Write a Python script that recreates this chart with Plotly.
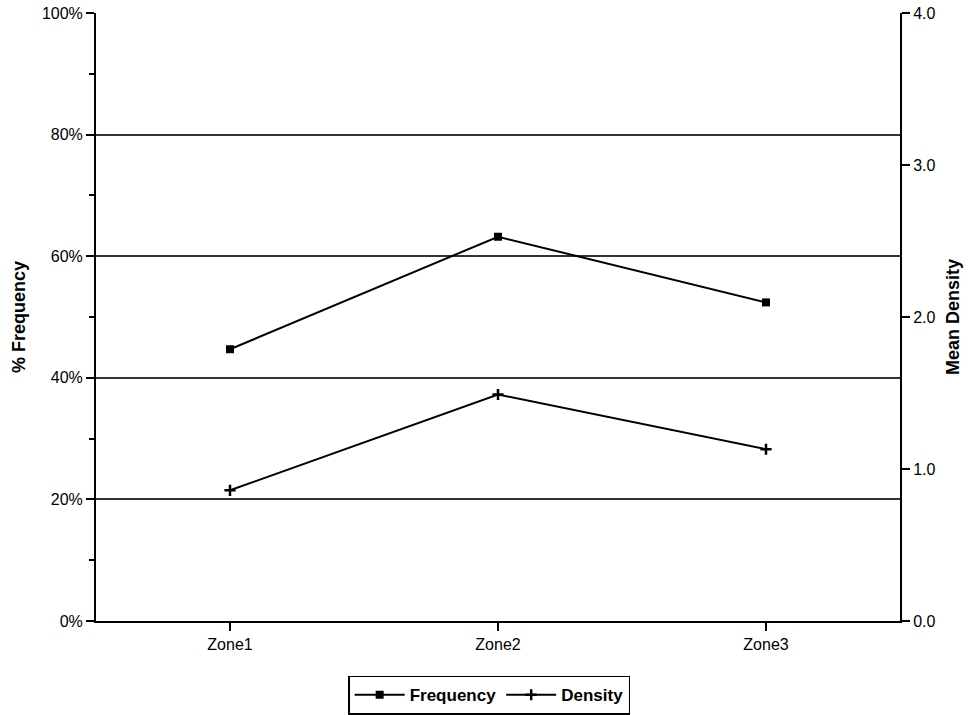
import plotly.graph_objects as go

categories = ["Zone1", "Zone2", "Zone3"]
frequency_pct = [44.7, 63.2, 52.4]
mean_density = [0.86, 1.49, 1.13]
left_ticks = [0, 20, 40, 60, 80, 100]
right_ticks = [0.0, 1.0, 2.0, 3.0, 4.0]

font_family = "Liberation Sans, Arial, sans-serif"

fig = go.Figure()
fig.add_trace(go.Scatter(
    x=categories, y=frequency_pct, name="<b>Frequency</b>",
    mode="lines+markers",
    line=dict(color="black", width=2),
    marker=dict(symbol="square", size=8, color="black"),
    yaxis="y",
))
fig.add_trace(go.Scatter(
    x=categories, y=mean_density, name="<b>Density</b>",
    mode="lines+markers",
    line=dict(color="black", width=2),
    marker=dict(symbol="cross-thin", size=8, color="black",
                line=dict(color="black", width=2.5)),
    yaxis="y2",
))

fig.update_layout(
    width=969, height=715,
    margin=dict(l=96, r=69, t=13, b=94, autoexpand=False),
    plot_bgcolor="white", paper_bgcolor="white",
    font=dict(family=font_family, size=16, color="black"),
    xaxis=dict(
        type="category", range=[-0.5, 2.5], automargin=False,
        showline=True, linecolor="black", linewidth=2,
        ticks="outside", ticklen=8, tickwidth=1.5, tickcolor="black",
        showgrid=False, zeroline=False,
        tickfont=dict(size=16),
    ),
    yaxis=dict(
        range=[0, 100], tickvals=left_ticks, automargin=False,
        ticktext=[f"{v}%" for v in left_ticks],
        showline=True, linecolor="black", linewidth=2,
        ticks="outside", ticklen=8, tickwidth=1.5, tickcolor="black",
        minor=dict(ticks="outside", ticklen=5, tickwidth=1.5, tickcolor="black", dtick=10, showgrid=False),
        showgrid=True, gridcolor="#333", gridwidth=1.5,
        zeroline=False,
        tickfont=dict(size=16),
        title=dict(text="<b>% Frequency</b>", font=dict(size=18), standoff=12),
    ),
    yaxis2=dict(
        overlaying="y", side="right", automargin=False,
        range=[0, 4], tickvals=right_ticks,
        ticktext=[f"{v:.1f}" for v in right_ticks],
        showline=True, linecolor="black", linewidth=2,
        ticks="outside", ticklen=8, tickwidth=1.5, tickcolor="black",
        showgrid=False, zeroline=False,
        tickfont=dict(size=16),
        title=dict(text="<b>Mean Density</b>", font=dict(size=18), standoff=12),
    ),
    legend=dict(
        orientation="h", x=0.489, xanchor="center", y=-0.09, yanchor="top",
        bordercolor="black", borderwidth=1.5,
        font=dict(size=17),
        itemwidth=50,
        traceorder="normal",
    ),
    showlegend=True,
)

fig.write_html("out.html", config={"displayModeBar": False},
               post_script="document.body.style.margin='0';")
